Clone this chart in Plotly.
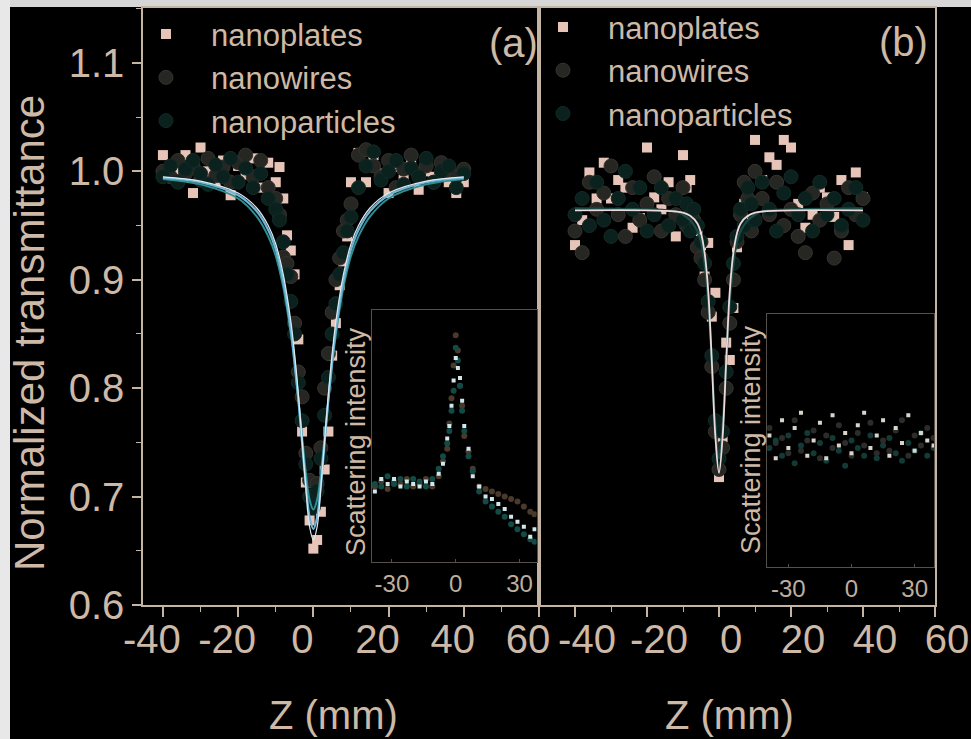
import plotly.graph_objects as go

# ---------------- data ----------------
Z = [-40, -38, -36, -34, -32, -30, -28, -26, -24, -22, -20, -18, -16, -14, -12,
     -10, -9, -8, -7, -6, -5, -4, -3, -2, -1, 0, 1, 2, 3, 4, 5, 6, 7, 8, 9, 10,
     12, 14, 16, 18, 20, 22, 24, 26, 28, 30, 32, 34, 36, 38, 40]

# panel (a)
plates_a = [1.015, 0.995, 1.002, 1.015, 0.980, 1.022, 1.000, 0.990, 1.010, 0.978, 1.005, 0.997, 1.012, 0.985, 1.008,
            0.990, 1.004, 0.975, 0.941, 0.927, 0.905, 0.845, 0.760, 0.713, 0.678, 0.652, 0.660, 0.686, 0.725, 0.760,
            0.830, 0.860, 0.895, 0.917, 0.940, 0.990,
            1.017, 0.990, 1.015, 0.998, 0.980, 1.004, 0.992, 1.010, 0.983, 1.000, 0.995, 1.008, 0.990, 0.980, 0.990]
wires_a = [1.000, 0.995, 1.010, 0.998, 1.005, 0.992, 1.012, 0.996, 1.004, 0.990, 1.008, 1.015, 0.995, 1.010, 0.985,
           0.975, 0.960, 0.921, 0.915, 0.903, 0.860, 0.815, 0.792, 0.740, 0.715, 0.700, 0.712, 0.745, 0.800, 0.832,
           0.870, 0.900, 0.920, 0.945, 0.955, 0.970,
           1.015, 1.020, 1.005, 0.995, 1.010, 0.985, 1.002, 1.015, 0.998, 1.005, 0.990, 1.008, 1.000, 0.995, 1.002]
particles_a = [0.995, 1.005, 0.990, 1.002, 1.010, 0.998, 0.988, 1.006, 0.995, 1.012, 0.990, 1.003, 0.985, 0.998, 0.975,
               0.965, 0.955, 0.935, 0.905, 0.880, 0.850, 0.805, 0.770, 0.730, 0.700, 0.690, 0.705, 0.735, 0.775, 0.810,
               0.850, 0.878, 0.905, 0.925, 0.945, 0.958,
               0.985, 1.005, 1.018, 0.992, 1.000, 1.010, 0.988, 1.003, 0.995, 1.012, 0.990, 1.000, 1.005, 0.985, 0.998]

# panel (b)
plates_b = [0.932, 0.955, 0.999, 0.975, 1.008, 0.975, 0.992, 0.985, 0.948, 0.957, 1.022, 0.976, 0.965, 0.990, 0.940,
            1.015, 0.985, 0.992, 0.960, 0.945, 0.932, 0.903, 0.934, 0.866, 0.888, 0.718, 0.755, 0.842, 0.826, 0.874,
            0.930, 0.960, 0.970, 0.985, 0.955, 1.029,
            0.992, 1.013, 1.006, 1.029, 1.022, 0.970, 0.948, 0.960, 0.985, 0.976, 0.958, 0.992, 0.932, 0.999, 0.976]
wires_b = [0.945, 0.925, 0.990, 0.965, 0.980, 1.005, 0.960, 0.940, 0.985, 0.955, 0.970, 0.995, 0.945, 0.975, 0.960,
           0.985, 0.950, 0.960, 0.955, 0.930, 0.920, 0.900, 0.870, 0.820, 0.760, 0.725, 0.745, 0.800, 0.860, 0.900,
           0.935, 0.960, 0.990, 0.975, 0.945, 1.000,
           0.975, 0.960, 0.990, 0.950, 0.965, 0.940, 0.925, 0.980, 0.955, 0.970, 0.920, 0.945, 0.985, 0.960, 0.975]
particles_b = [0.960, 0.975, 0.950, 0.990, 0.955, 0.940, 0.975, 1.000, 0.965, 0.985, 0.945, 0.960, 0.985, 0.950, 0.975,
               0.955, 0.970, 0.945, 0.965, 0.950, 0.935, 0.915, 0.880, 0.830, 0.770, 0.735, 0.760, 0.815, 0.875, 0.915,
               0.940, 0.965, 0.950, 0.985, 0.970, 0.955,
               0.990, 0.965, 0.945, 0.980, 0.995, 0.960, 0.975, 0.945, 0.990, 0.960, 0.975, 0.950, 0.965, 0.985, 0.955]

# fitted curves
Z_FIT_A = [-40, -30, -20, -15, -12, -10, -8, -6, -5, -4, -3, -2, -1, 0, 1, 2, 3, 4, 5, 6, 8, 10, 12, 15, 20, 30, 40]
fit_a1 = [0.994, 0.990, 0.978, 0.963, 0.946, 0.928, 0.899, 0.855, 0.825, 0.790, 0.750, 0.711, 0.681, 0.670,
          0.681, 0.711, 0.750, 0.790, 0.825, 0.855, 0.899, 0.928, 0.946, 0.963, 0.978, 0.990, 0.994]
fit_a2 = [0.995, 0.991, 0.980, 0.966, 0.950, 0.933, 0.905, 0.862, 0.832, 0.795, 0.752, 0.708, 0.672, 0.660,
          0.672, 0.708, 0.752, 0.795, 0.832, 0.862, 0.905, 0.933, 0.950, 0.966, 0.980, 0.991, 0.995]
fit_a3 = [0.993, 0.988, 0.975, 0.958, 0.940, 0.922, 0.893, 0.850, 0.822, 0.790, 0.755, 0.722, 0.697, 0.688,
          0.697, 0.722, 0.755, 0.790, 0.822, 0.850, 0.893, 0.922, 0.940, 0.958, 0.975, 0.988, 0.993]
Z_FIT_B = [-40, -20, -12, -10, -8, -6, -5, -4, -3, -2, -1, 0, 1, 2, 3, 4, 5, 6, 8, 10, 12, 20, 40]
fit_b1 = [0.964, 0.964, 0.963, 0.962, 0.959, 0.952, 0.943, 0.925, 0.890, 0.825, 0.755, 0.722,
          0.755, 0.825, 0.890, 0.925, 0.943, 0.952, 0.959, 0.962, 0.963, 0.964, 0.964]
fit_b2 = [0.966, 0.965, 0.963, 0.960, 0.955, 0.945, 0.935, 0.915, 0.880, 0.825, 0.765, 0.735,
          0.765, 0.825, 0.880, 0.915, 0.935, 0.945, 0.955, 0.960, 0.963, 0.965, 0.966]

# insets (scattering intensity, arbitrary units)
Z_IN_A = [-38, -35, -32, -29, -26, -23, -20, -17, -14, -11, -8, -6, -4, -3, -2, -1, 0, 1, 2, 3, 4, 6, 8,
          11, 14, 17, 20, 23, 26, 29, 32, 35, 37]
scat_a1 = [0.28, 0.33, 0.31, 0.33, 0.30, 0.32, 0.31, 0.30, 0.32, 0.31, 0.35, 0.39, 0.49, 0.54, 0.62, 0.72, 0.81,
           0.77, 0.73, 0.64, 0.54, 0.45, 0.34, 0.30, 0.26, 0.25, 0.23, 0.21, 0.18, 0.16, 0.14, 0.10, 0.13]
scat_a2 = [0.31, 0.30, 0.34, 0.31, 0.33, 0.30, 0.33, 0.32, 0.30, 0.33, 0.37, 0.42, 0.47, 0.52, 0.60, 0.68, 0.85,
           0.80, 0.70, 0.60, 0.52, 0.42, 0.36, 0.28, 0.24, 0.22, 0.20, 0.18, 0.15, 0.13, 0.11, 0.09, 0.08]
scat_a3 = [0.30, 0.32, 0.29, 0.32, 0.31, 0.33, 0.30, 0.31, 0.33, 0.30, 0.34, 0.40, 0.45, 0.55, 0.65, 0.78, 0.90,
           0.84, 0.70, 0.62, 0.50, 0.44, 0.37, 0.30, 0.29, 0.28, 0.27, 0.26, 0.25, 0.24, 0.22, 0.20, 0.19]
Z_IN_B = [-39, -36, -33, -30, -27, -24, -21, -18, -15, -12, -9, -6, -3, 0, 3, 6, 9, 12, 15, 18, 21, 24, 27,
          30, 33, 36, 39]
scat_b1 = [0.52, 0.43, 0.58, 0.47, 0.55, 0.61, 0.44, 0.50, 0.57, 0.43, 0.60, 0.48, 0.53, 0.45, 0.56, 0.61, 0.47,
           0.52, 0.58, 0.44, 0.55, 0.49, 0.60, 0.46, 0.53, 0.50, 0.48]
scat_b2 = [0.47, 0.50, 0.44, 0.52, 0.41, 0.48, 0.53, 0.45, 0.49, 0.42, 0.51, 0.46, 0.40, 0.50, 0.47, 0.44, 0.52,
           0.43, 0.48, 0.51, 0.45, 0.42, 0.49, 0.46, 0.53, 0.44, 0.47]
scat_b3 = [0.55, 0.49, 0.51, 0.45, 0.58, 0.46, 0.50, 0.54, 0.43, 0.52, 0.47, 0.56, 0.49, 0.44, 0.53, 0.48, 0.57,
           0.45, 0.50, 0.46, 0.54, 0.58, 0.44, 0.52, 0.48, 0.55, 0.51]

NAMES = ["nanoplates", "nanowires", "nanoparticles"]
X_TICKS = [-40, -20, 0, 20, 40, 60]
X_TICKTEXT = ["-40", "-20", "0", "20", "40", "60"]
INSET_TICKS = [-30, 0, 30]
INSET_TICKTEXT = ["-30", "0", "30"]

# ---------------- style ----------------
TXT = "#cdb9a6"
AX = "#c4b4a4"
FONT = "Liberation Sans, Arial, sans-serif"
C_PLATE = "#e6c4b8"
C_WIRE = "#262623"
C_PART = "#0b211e"

fig = go.Figure()

def add_panel(xa, ya, legend, plates, wires, parts):
    fig.add_trace(go.Scatter(x=Z, y=plates, mode="markers", name=NAMES[0], legend=legend,
                             xaxis=xa, yaxis=ya,
                             marker=dict(symbol="square", size=10, color=C_PLATE, line=dict(width=0))))
    fig.add_trace(go.Scatter(x=Z, y=wires, mode="markers", name=NAMES[1], legend=legend,
                             xaxis=xa, yaxis=ya,
                             marker=dict(symbol="circle", size=14, color=C_WIRE,
                                         line=dict(width=1, color="#363430"))))
    fig.add_trace(go.Scatter(x=Z, y=parts, mode="markers", name=NAMES[2], legend=legend,
                             xaxis=xa, yaxis=ya,
                             marker=dict(symbol="circle", size=14, color=C_PART,
                                         line=dict(width=1, color="#122b28"))))

add_panel("x", "y", "legend", plates_a, wires_a, particles_a)
for yv, col, w in [(fit_a3, "#2f8f93", 2), (fit_a1, "#6fb6d8", 2.2), (fit_a2, "#dfeaf0", 1.2)]:
    fig.add_trace(go.Scatter(x=Z_FIT_A, y=yv, mode="lines", line=dict(color=col, width=w, shape="spline"),
                             showlegend=False, xaxis="x", yaxis="y", hoverinfo="skip"))

add_panel("x2", "y2", "legend2", plates_b, wires_b, particles_b)
for yv, col, w in [(fit_b2, "#1c4a47", 2.2), (fit_b1, "#eadada", 1.8)]:
    fig.add_trace(go.Scatter(x=Z_FIT_B, y=yv, mode="lines", line=dict(color=col, width=w, shape="spline"),
                             showlegend=False, xaxis="x2", yaxis="y2", hoverinfo="skip"))

# insets
for yv, col, sym, sz in [(scat_a3, "#4a3a2c", "circle", 6), (scat_a2, "#124a46", "circle", 6),
                         (scat_a1, "#cfe6ea", "square", 4)]:
    fig.add_trace(go.Scatter(x=Z_IN_A, y=yv, mode="markers", showlegend=False, xaxis="x3", yaxis="y3",
                             marker=dict(symbol=sym, size=sz, color=col, line=dict(width=0))))
for yv, col, sym, sz in [(scat_b3, "#2c2c2a", "circle", 6), (scat_b2, "#123a37", "circle", 6),
                         (scat_b1, "#d8d4cc", "square", 4)]:
    fig.add_trace(go.Scatter(x=Z_IN_B, y=yv, mode="markers", showlegend=False, xaxis="x4", yaxis="y4",
                             marker=dict(symbol=sym, size=sz, color=col, line=dict(width=0))))

tickfont = dict(family=FONT, size=40, color=TXT)
common_x = dict(showline=True, linecolor=AX, linewidth=1.5, mirror=True, ticks="outside", ticklen=10,
                tickwidth=1.5, tickcolor=AX, tickvals=X_TICKS, ticktext=X_TICKTEXT, tickfont=tickfont,
                showgrid=False, zeroline=False, ticklabelstandoff=-12,
                minor=dict(ticks="outside", ticklen=5, dtick=10, tick0=0, tickcolor=AX, tickwidth=1.2))
inset_x = dict(showline=True, linecolor="#55504a", linewidth=1, mirror=True, ticks="inside", ticklen=3,
               tickcolor="#55504a", tickvals=INSET_TICKS, ticktext=INSET_TICKTEXT,
               tickfont=dict(family=FONT, size=24, color="#bfae9c"), showgrid=False, zeroline=False)
inset_y = dict(showline=True, linecolor="#55504a", linewidth=1, mirror=True, ticks="", showticklabels=False,
               showgrid=False, zeroline=False, range=[0, 1])

legfont = dict(family=FONT, size=31, color=TXT)
fig.update_layout(
    width=971, height=739,
    margin=dict(l=143, r=36, t=8, b=134, autoexpand=False),
    paper_bgcolor="black", plot_bgcolor="black",
    font=dict(family=FONT, color=TXT),
    xaxis=dict(domain=[0, 0.5], anchor="y", range=[-45.3, 60], ticklabelshift=-11, **common_x),
    yaxis=dict(domain=[0, 1], anchor="x", range=[0.6, 1.1507], showline=True, linecolor=AX, linewidth=1.5,
               mirror=True, ticks="outside", ticklen=9, tickwidth=1.5, tickcolor=AX, dtick=0.1, tick0=0.6,
               tickformat=".1f", tickfont=tickfont, showgrid=False, zeroline=False,
               minor=dict(ticks="outside", ticklen=5, dtick=0.05, tickcolor=AX, tickwidth=1.2)),
    xaxis2=dict(domain=[0.5, 1], anchor="y2", range=[-50, 60], ticklabelshift=12, **common_x),
    yaxis2=dict(domain=[0, 1], anchor="x2", range=[0.6, 1.1507], showline=True, linecolor=AX, linewidth=1.5,
                mirror=True, ticks="", showticklabels=False, showgrid=False, zeroline=False),
    xaxis3=dict(domain=[0.289, 0.497], anchor="y3", range=[-39.4, 38], **inset_x),
    yaxis3=dict(domain=[0.072, 0.494], anchor="x3", **inset_y),
    xaxis4=dict(domain=[0.788, 0.999], anchor="y4", range=[-40.1, 39.3], **inset_x),
    yaxis4=dict(domain=[0.064, 0.487], anchor="x4", **inset_y),
    legend=dict(x=-0.0278, y=1.001, xanchor="left", yanchor="top", bgcolor="rgba(0,0,0,0)",
                font=legfont, itemwidth=80, tracegroupgap=0),
    legend2=dict(x=0.4735, y=1.013, xanchor="left", yanchor="top", bgcolor="rgba(0,0,0,0)",
                 font=legfont, itemwidth=80, tracegroupgap=0),
    showlegend=True,
)

def note(text, px, py, size, angle=0):
    return dict(text=text, x=(px - 143) / 792, y=(605 - py) / 597, xref="paper", yref="paper",
                xanchor="center", yanchor="middle", textangle=angle, showarrow=False,
                font=dict(size=size, color=TXT, family=FONT))

fig.update_layout(annotations=[
    note("Normalized transmittance", 30, 333, 42, -90),
    note("Z (mm)", 333, 715, 40),
    note("Z (mm)", 729, 715, 40),
    note("(a)", 513, 43, 40),
    note("(b)", 903, 42, 40),
    note("Scattering intensity", 356, 442, 27, -90),
    note("Scattering intensity", 751, 440, 27, -90),
])

# light border strips of the original scan (top and left edges)
fig.add_shape(type="rect", xref="paper", yref="paper", x0=-143 / 792, x1=(971 - 143) / 792,
              y0=(605 - 7) / 597, y1=605 / 597, fillcolor="#d6d6d6", line=dict(width=0), layer="below")
fig.add_shape(type="rect", xref="paper", yref="paper", x0=-143 / 792, x1=(10 - 143) / 792,
              y0=(605 - 739) / 597, y1=605 / 597, fillcolor="#e8e8e8", line=dict(width=0), layer="below")

fig.write_html("out.html")
